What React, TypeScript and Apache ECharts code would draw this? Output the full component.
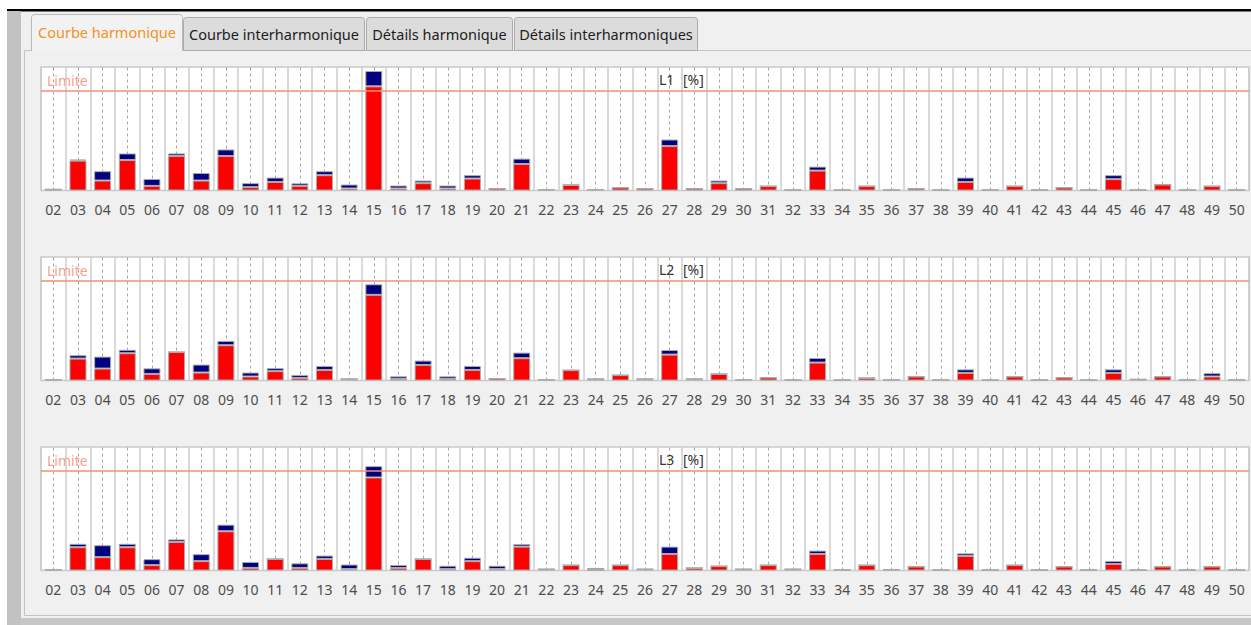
import React, { useEffect, useRef } from "react";
import * as echarts from "echarts";

// Harmonic orders 2..50
const harmonics = [
  "02", "03", "04", "05", "06", "07", "08", "09", "10", "11", "12", "13", "14", "15", "16", "17",
  "18", "19", "20", "21", "22", "23", "24", "25", "26", "27", "28", "29", "30", "31", "32", "33",
  "34", "35", "36", "37", "38", "39", "40", "41", "42", "43", "44", "45", "46", "47", "48", "49", "50",
];

const limitValue = 5;
const axisMax = 6.2;

const tabLabels = ["Courbe harmonique", "Courbe interharmonique", "Détails harmonique", "Détails interharmoniques"];
const phaseTitles = ["L1", "L2", "L3"];
const unitLabel = "[%]";

// Average level (red) and extra up to the maximum (navy), per phase
const l1Avg = [
  0.06, 1.5, 0.5, 1.53, 0.23, 1.73, 0.5, 1.73, 0.17, 0.43, 0.23, 0.77, 0.1, 5.23, 0.1, 0.37,
  0.1, 0.6, 0.1, 1.33, 0.05, 0.28, 0.05, 0.15, 0.1, 2.23, 0.1, 0.37, 0.1, 0.22, 0.03, 1.0,
  0.03, 0.22, 0.03, 0.1, 0.03, 0.43, 0.03, 0.22, 0.03, 0.15, 0.03, 0.57, 0.03, 0.3, 0.03, 0.22, 0.03,
];
const l1Max = [
  0, 0.05, 0.47, 0.33, 0.35, 0.13, 0.38, 0.33, 0.2, 0.22, 0.13, 0.2, 0.2, 0.77, 0.15, 0.13,
  0.15, 0.17, 0, 0.27, 0, 0, 0, 0, 0, 0.33, 0, 0.13, 0, 0, 0, 0.2,
  0, 0, 0, 0, 0, 0.22, 0, 0, 0, 0, 0, 0.2, 0, 0, 0, 0, 0,
];
const l2Avg = [
  0.05, 1.1, 0.6, 1.37, 0.33, 1.43, 0.4, 1.77, 0.2, 0.47, 0.13, 0.53, 0.08, 4.3, 0.08, 0.78,
  0.08, 0.53, 0.1, 1.12, 0.05, 0.52, 0.08, 0.27, 0.08, 1.3, 0.08, 0.33, 0.05, 0.15, 0.03, 0.9,
  0.03, 0.13, 0.03, 0.2, 0.03, 0.38, 0.03, 0.2, 0.03, 0.15, 0.03, 0.38, 0.06, 0.2, 0.03, 0.2, 0.03,
];
const l2Max = [
  0, 0.17, 0.6, 0.17, 0.28, 0, 0.4, 0.22, 0.2, 0.15, 0.15, 0.2, 0, 0.53, 0.13, 0.22,
  0.13, 0.2, 0, 0.28, 0, 0, 0, 0, 0, 0.23, 0, 0, 0, 0, 0, 0.23,
  0, 0, 0, 0, 0, 0.18, 0, 0, 0, 0, 0, 0.18, 0, 0, 0, 0.17, 0,
];
const l3Avg = [
  0.05, 1.17, 0.67, 1.17, 0.27, 1.43, 0.47, 1.97, 0.13, 0.58, 0.13, 0.58, 0.07, 4.67, 0.13, 0.58,
  0.07, 0.47, 0.07, 1.2, 0.07, 0.27, 0.03, 0.27, 0.07, 0.83, 0.13, 0.22, 0.07, 0.27, 0.07, 0.83,
  0.05, 0.27, 0.05, 0.2, 0.03, 0.73, 0.03, 0.27, 0.03, 0.2, 0.03, 0.33, 0.03, 0.2, 0.03, 0.2, 0.03,
];
const l3Max = [
  0, 0.17, 0.6, 0.17, 0.3, 0.13, 0.35, 0.33, 0.3, 0, 0.23, 0.17, 0.23, 0.57, 0.15, 0,
  0.17, 0.17, 0.17, 0.13, 0, 0, 0.1, 0, 0, 0.37, 0, 0, 0, 0, 0, 0.17,
  0, 0, 0, 0, 0, 0.13, 0, 0, 0, 0, 0, 0.15, 0, 0, 0, 0, 0,
];

const avgSeries = [l1Avg, l2Avg, l3Avg];
const maxSeries = [l1Max, l2Max, l3Max];

const FONT = "'Noto Sans', 'Open Sans', sans-serif";
const GRID_LEFT = 41;
const GRID_RIGHT = 2;
const GRID_TOPS = [67, 257, 447];
const GRID_HEIGHT = 123.5;

const App: React.FC = () => {
  const ref = useRef<HTMLDivElement>(null);

  useEffect(() => {
    if (!ref.current) return;
    const chart = echarts.init(ref.current, undefined, { renderer: "svg" });

    const grids = GRID_TOPS.map((top) => ({
      left: GRID_LEFT,
      right: GRID_RIGHT,
      top,
      height: GRID_HEIGHT,
      show: true,
      backgroundColor: "#ffffff",
      borderColor: "#c9c9c9",
      borderWidth: 1.5,
    }));

    const xAxes = GRID_TOPS.map((_, i) => ({
      type: "category",
      gridIndex: i,
      data: harmonics,
      boundaryGap: true,
      axisLine: { show: false },
      axisTick: { show: false },
      axisLabel: {
        interval: 0,
        color: "#4d4d4d",
        fontSize: 14,
        fontFamily: FONT,
        margin: 12,
      },
      splitLine: {
        show: true,
        interval: 0,
        lineStyle: { color: "#cdcdcd", width: 1.5 },
      },
    }));

    const yAxes = GRID_TOPS.map((_, i) => ({
      type: "value",
      gridIndex: i,
      min: 0,
      max: axisMax,
      show: false,
      splitLine: { show: false },
    }));

    const series: any[] = [];
    GRID_TOPS.forEach((_, i) => {
      // dashed guide through the centre of each harmonic, behind the bars
      series.push({
        type: "line",
        xAxisIndex: i,
        yAxisIndex: i,
        data: [],
        z: 1,
        silent: true,
        markLine: {
          z: 1,
          silent: true,
          symbol: ["none", "none"],
          label: { show: false },
          lineStyle: { color: "#a6a6a6", width: 1, type: [3, 3] },
          emphasis: { disabled: true },
          data: harmonics.map((h) => ({ xAxis: h })),
        },
      });
      series.push({
        type: "bar",
        name: "avg",
        xAxisIndex: i,
        yAxisIndex: i,
        stack: "phase" + i,
        barWidth: 17,
        z: 3,
        itemStyle: { color: "#ff0000", borderColor: "#ababab", borderWidth: 1 },
        data: avgSeries[i],
      });
      series.push({
        type: "bar",
        name: "max",
        xAxisIndex: i,
        yAxisIndex: i,
        stack: "phase" + i,
        barWidth: 17,
        z: 3,
        itemStyle: { color: "#000080", borderColor: "#ababab", borderWidth: 1 },
        data: maxSeries[i],
      });
      // limit line
      series.push({
        type: "line",
        xAxisIndex: i,
        yAxisIndex: i,
        data: [],
        z: 5,
        silent: true,
        markLine: {
          z: 6,
          silent: true,
          symbol: ["none", "none"],
          lineStyle: { color: "#f68e76", width: 1.5, type: "solid" },
          emphasis: { disabled: true },
          label: {
            show: true,
            position: "insideStartTop",
            formatter: "Limite",
            color: "#f7a18c",
            fontSize: 14,
            fontFamily: FONT,
            distance: [6, 3],
          },
          data: [{ yAxis: limitValue }],
        },
      });
    });

    // window chrome: frame, tabs and panel titles
    const tabs = [
      { x: 31, w: 151, active: true },
      { x: 183, w: 181, active: false },
      { x: 366, w: 146, active: false },
      { x: 514, w: 183, active: false },
    ];

    const graphic: any[] = [
      { type: "rect", shape: { x: 0, y: 0, width: 1251, height: 9 }, style: { fill: "#ffffff" }, silent: true },
      { type: "rect", shape: { x: 0, y: 0, width: 7, height: 625 }, style: { fill: "#ffffff" }, silent: true },
      { type: "rect", shape: { x: 7, y: 9, width: 1244, height: 2.5 }, style: { fill: "#000000" }, silent: true },
      { type: "rect", shape: { x: 7, y: 11, width: 14, height: 614 }, style: { fill: "#c2c2c2" }, silent: true },
      { type: "rect", shape: { x: 21, y: 618, width: 1230, height: 7 }, style: { fill: "#c6c6c6" }, silent: true },
      {
        type: "rect",
        shape: { x: 24.5, y: 50.5, width: 1240, height: 565 },
        style: { fill: "none", stroke: "#c3c3c3", lineWidth: 1 },
        silent: true,
      },
    ];

    tabs.forEach((t, k) => {
      const top = t.active ? 14.5 : 17.5;
      graphic.push({
        type: "rect",
        shape: { x: t.x + 0.5, y: top, width: t.w, height: 50.5 - top, r: [3, 3, 0, 0] },
        style: { fill: t.active ? "#f2f2f2" : "#dcdcdc", stroke: t.active ? "#b9b9b9" : "#acacac", lineWidth: 1 },
        silent: true,
      });
      if (t.active) {
        graphic.push({
          type: "rect",
          shape: { x: t.x + 1, y: 49.5, width: t.w - 1, height: 2 },
          style: { fill: "#f2f2f2" },
          silent: true,
        });
      }
      graphic.push({
        type: "text",
        x: t.x + t.w / 2 + 0.5,
        y: t.active ? 32 : 34,
        style: {
          text: tabLabels[k],
          fill: t.active ? "#f39324" : "#1c1c1c",
          font: `14.5px ${FONT}`,
          align: "center",
          verticalAlign: "middle",
        },
        silent: true,
      });
    });

    GRID_TOPS.forEach((top, i) => {
      graphic.push({
        type: "text",
        x: 659,
        y: top + 12,
        style: { text: phaseTitles[i], fill: "#333333", font: `14px ${FONT}`, verticalAlign: "middle" },
        z: 10,
        silent: true,
      });
      graphic.push({
        type: "text",
        x: 683,
        y: top + 12,
        style: { text: unitLabel, fill: "#333333", font: `14px ${FONT}`, verticalAlign: "middle" },
        z: 10,
        silent: true,
      });
    });

    chart.setOption({
      animation: false,
      backgroundColor: "#f0f0f0",
      textStyle: { fontFamily: FONT },
      grid: grids,
      xAxis: xAxes,
      yAxis: yAxes,
      series,
      graphic,
    });

    return () => chart.dispose();
  }, []);

  return (
    <div
      ref={ref}
      style={{ position: "fixed", left: 0, top: 0, width: 1251, height: 625 }}
    />
  );
};

export default App;
